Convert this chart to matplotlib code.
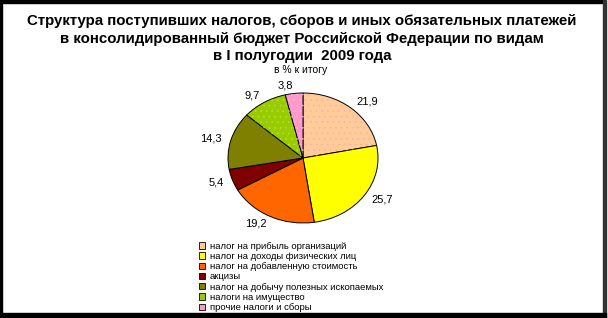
import matplotlib.pyplot as plt
from matplotlib.patches import Rectangle, Wedge

plt.rcParams["font.family"] = ["Liberation Sans", "DejaVu Sans"]
plt.rcParams["hatch.linewidth"] = 0.4

categories = [
    "налог на прибыль организаций",
    "налог на доходы физических лиц",
    "налог на добавленную стоимость",
    "акцизы",
    "налог на добычу полезных ископаемых",
    "налоги на имущество",
    "прочие налоги и сборы",
]
shares = [21.9, 25.7, 19.2, 5.4, 14.3, 9.7, 3.8]
colors = ["#FFCC99", "#FFFF00", "#FF6600", "#800000", "#808000", "#99CC00", "#FF99CC"]
# dotted fill texture on some of the wedges
dot_colors = ["#FFAAAA", None, None, None, None, "#BBDD44", "#FFBBDD"]

title = ("Структура поступивших налогов, сборов и иных обязательных платежей\n"
         "в консолидированный бюджет Российской Федерации по видам\n"
         "в I полугодии  2009 года")
subtitle = "в % к итогу"

W, H = 608, 318
fig = plt.figure(figsize=(W / 100, H / 100), dpi=100)
fig.patch.set_facecolor("white")

# frame with a heavier bottom edge
frame = fig.add_axes([0, 0, 1, 1])
frame.set_xlim(0, W)
frame.set_ylim(H, 0)
frame.axis("off")
frame.add_patch(Rectangle((0, 0), 605, 3, color="black"))
frame.add_patch(Rectangle((0, 0), 2, 317, color="black"))
frame.add_patch(Rectangle((603, 0), 2.5, 317, color="#333333"))
frame.add_patch(Rectangle((0, 313), 605.5, 5, color="black"))

fig.text(302 / W, 1 - 14 / H, title, ha="center", va="top", fontsize=10.8,
         fontweight="bold", linespacing=1.32)
fig.text(301 / W, 1 - 70 / H, subtitle, ha="center", va="center", fontsize=7.5)

# pie is drawn slightly flattened
ax = fig.add_axes([228 / W, 1 - 223 / H, 150 / W, 130 / H])
labels = [f"{v:.1f}".replace(".", ",") for v in shares]
wedges, texts = ax.pie(shares, colors=colors, startangle=90, counterclock=False,
                       labels=labels, labeldistance=1.12,
                       wedgeprops=dict(edgecolor="black", linewidth=0.7),
                       textprops=dict(fontsize=8))
for w, dc in zip(wedges, dot_colors):
    if dc is None:
        continue
    ax.add_patch(Wedge((0, 0), 0.99, w.theta1, w.theta2, facecolor="none",
                       edgecolor=dc, linewidth=0, hatch="..."))
ax.set_aspect("auto")
ax.set_xlim(-1, 1)
ax.set_ylim(-1, 1)

handles = [Rectangle((0, 0), 1, 1, facecolor=c, edgecolor="black", linewidth=0.6)
           for c in colors]
fig.legend(handles, categories, loc="upper left",
           bbox_to_anchor=(194 / W, 1 - 237 / H), frameon=False,
           fontsize=6.8, handlelength=0.65, handleheight=0.65,
           handletextpad=0.5, labelspacing=0.13, borderpad=0)

fig.savefig("out.png", dpi=100)
